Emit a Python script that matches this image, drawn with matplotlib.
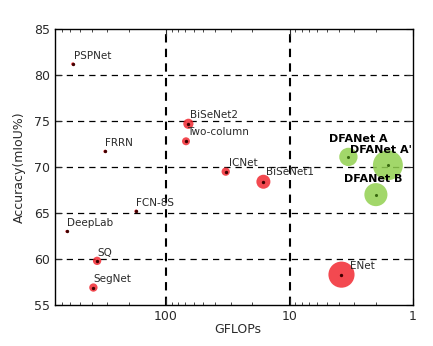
import matplotlib
matplotlib.use("Agg")
import matplotlib.pyplot as plt
from matplotlib.ticker import LogLocator, NullFormatter

# model name, GFLOPs, mIoU (%), speed (fps-ish, sets bubble size)
names = ["PSPNet", "FRRN", "BiSeNet2", "Two-column", "FCN-8S", "DeepLab",
         "SQ", "SegNet", "ICNet", "BiSeNet1", "ENet"]
gflops = [569, 312, 66, 69, 175, 637, 362, 388, 32.9, 16.3, 3.8]
miou = [81.2, 71.7, 74.7, 72.8, 65.2, 63.0, 59.8, 56.9, 69.5, 68.4, 58.3]
fps = [2, 2, 18, 11, 2, 1.5, 12, 12, 12, 34, 118]

dfa_names = ["DFANet A", "DFANet A'", "DFANet B"]
dfa_gflops = [3.34, 1.6, 2.0]
dfa_miou = [71.1, 70.2, 67.0]
dfa_fps = [58, 155, 92]

# label offsets in points (dx, dy)
offsets = {"PSPNet": (1, 6), "FRRN": (0, 6), "BiSeNet2": (1, 6), "Two-column": (1, 7),
           "FCN-8S": (0, 6), "DeepLab": (0, 6), "SQ": (0, 6), "SegNet": (0, 6),
           "ICNet": (2, 6), "BiSeNet1": (2, 7), "ENet": (6, 6)}
dfa_offsets = {"DFANet A": (-14, 13), "DFANet A'": (-27, 11), "DFANet B": (-23, 11)}

fig = plt.figure(figsize=(4.33, 3.46), dpi=100)
ax = fig.add_axes([0.127, 0.1185, 0.827, 0.7975])

ax.set_xscale("log")
ax.set_xlim(794, 1)
ax.set_ylim(55, 85)

for v in [60, 65, 70, 75, 80]:
    ax.axhline(v, color="black", ls=(0, (5, 4)), lw=0.9, zorder=1)
for v in [100, 10]:
    ax.axvline(v, color="black", ls=(0, (4, 3)), lw=1.5, zorder=1)

ax.scatter(gflops, miou, s=[f * 3 for f in fps], color="#f01c24", alpha=0.8,
           edgecolors="none", zorder=3)
ax.scatter(gflops, miou, s=2, color="#400000", zorder=4)
ax.scatter(dfa_gflops, dfa_miou, s=[f * 3 for f in dfa_fps], color="#92d050",
           alpha=0.85, edgecolors="none", zorder=3)
ax.scatter(dfa_gflops, dfa_miou, s=1.5, color="#3a6a10", zorder=4)

for n, x, y in zip(names, gflops, miou):
    ax.annotate(n, (x, y), xytext=offsets[n], textcoords="offset points",
                fontsize=7.5, color="#2a2a2a", va="center", ha="left", zorder=5)
for n, x, y in zip(dfa_names, dfa_gflops, dfa_miou):
    ax.annotate(n, (x, y), xytext=dfa_offsets[n], textcoords="offset points",
                fontsize=8, fontweight="bold", color="black", va="center",
                ha="left", zorder=5, annotation_clip=False)

ax.set_xticks([100, 10, 1])
ax.set_xticklabels(["100", "10", "1"])
ax.xaxis.set_minor_locator(LogLocator(base=10, subs=range(2, 10), numticks=20))
ax.xaxis.set_minor_formatter(NullFormatter())
ax.set_yticks([55, 60, 65, 70, 75, 80, 85])
ax.tick_params(which="both", direction="in", top=True, right=True, labelsize=9,
               colors="#2a2a2a")
ax.tick_params(which="major", length=5)
ax.tick_params(which="minor", length=2.5)
for sp in ax.spines.values():
    sp.set_linewidth(1.0)

ax.set_xlabel("GFLOPs", fontsize=9, color="#2a2a2a")
ax.xaxis.set_label_coords(0.51, -0.065)
ax.set_ylabel("Accuracy(mIoU%)", fontsize=9, color="#2a2a2a", labelpad=6)

plt.savefig("out.png", dpi=100)
